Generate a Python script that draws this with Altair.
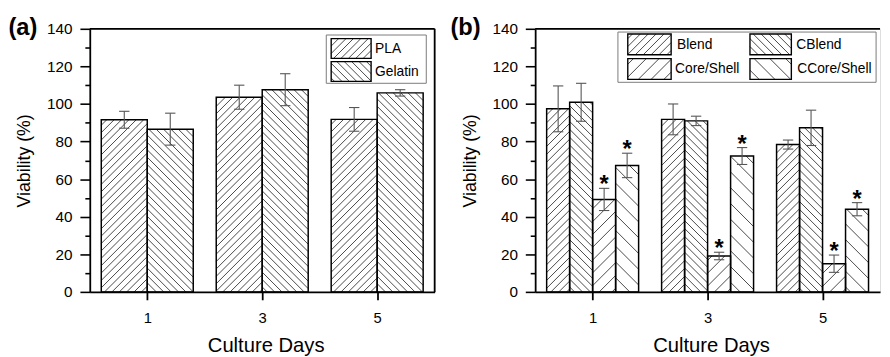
import math
import altair as alt
import pandas as pd

# ---------------- data ----------------
DAYS = [1, 3, 5]

A_SERIES = ["PLA", "Gelatin"]
A_MEAN = [[91.6, 103.6, 91.8], [86.6, 107.6, 105.9]]
A_ERR = [[4.5, 6.4, 6.3], [8.5, 8.5, 1.7]]
A_SIG = [[False, False, False], [False, False, False]]

B_SERIES = ["Blend", "CBlend", "Core/Shell", "CCore/Shell"]
B_MEAN = [[97.4, 91.8, 78.4], [100.9, 91.0, 87.3], [49.2, 19.1, 15.0], [67.3, 72.3, 44.0]]
B_ERR = [[12.2, 8.2, 2.4], [10.1, 2.5, 9.4], [5.9, 2.0, 4.6], [6.5, 4.5, 3.5]]
B_SIG = [[False, False, False], [False, False, False], [True, True, True], [True, True, True]]

Y_TICKS = list(range(0, 141, 10))
X_TICKS = [1, 3, 5]

# ---------------- styling / layout ----------------
FONT = "Liberation Sans"
W, H = 350, 267
XDOM = [0, 6]
YDOM = [0, 140]
KX = W / (XDOM[1] - XDOM[0])
KY = H / (YDOM[1] - YDOM[0])
CAP = 5.25  # half cap width, px

A_HATCH = [("/", 7.5), ("\\", 7.5)]
B_HATCH = [("/", 8.0), ("\\", 8.0), ("/", 13.0), ("\\", 16.0)]

A_LEGEND = dict(
    box=(240, 6.3, 341.5, 55.3),
    items=[(245, 10, 285.5, 30, 289.5), (245, 33.3, 285.5, 53.3, 289.5)],
)
B_LEGEND = dict(
    box=(84, 3.3, 346, 54.3),
    items=[(94, 5.3, 138, 26.3, 144), (218, 5.3, 260, 26.3, 265),
           (94, 30.3, 138, 51.3, 142), (218, 30.3, 260, 51.3, 266)],
)

xscale = alt.Scale(domain=XDOM, nice=False, zero=False)
yscale = alt.Scale(domain=YDOM, nice=False, zero=False)

xaxis = alt.Axis(values=X_TICKS, format="d", title="Culture Days", grid=False,
                 tickSize=8, tickWidth=1.8, tickColor="black",
                 domainColor="black", domainWidth=1.8,
                 labelFontSize=15, labelPadding=11, labelColor="black",
                 titleFontSize=20.5, titlePadding=11, titleColor="black",
                 titleX=W / 2 + 3.5,
                 titleFontWeight="normal", zindex=1)
yaxis = alt.Axis(values=Y_TICKS, title="Viability (%)", grid=False,
                 labelExpr="datum.value % 20 === 0 ? datum.label : ''",
                 labelOverlap=False, tickCount=15,
                 tickSize={"condition": {"test": "datum.value % 20 === 0", "value": 10}, "value": 5},
                 tickWidth=1.6, tickColor="black",
                 domainColor="black", domainWidth=1.8,
                 labelFontSize=15.5, labelPadding=8, labelColor="black",
                 titleFontSize=18, titlePadding=13, titleColor="black",
                 titleFontWeight="normal", zindex=1)


def X(f):
    return alt.X(f, type="quantitative", scale=xscale, axis=xaxis)


def Y(f):
    return alt.Y(f, type="quantitative", scale=yscale, axis=yaxis)


def PX(f):
    return alt.X(f, type="quantitative", scale=None, axis=None)


def PY(f):
    return alt.Y(f, type="quantitative", scale=None, axis=None)


def hatch_lines(X0, X1, Y0, Y1, direction, s):
    segs = []
    if direction == "/":
        kmin = math.ceil((Y0 - X1) / s)
        kmax = math.floor((Y1 - X0) / s)
        for k in range(kmin, kmax + 1):
            c = k * s
            xa = max(X0, Y0 - c)
            xb = min(X1, Y1 - c)
            if xb - xa > 0.3:
                segs.append((xa, xa + c, xb, xb + c))
    else:
        kmin = math.ceil((X0 + Y0) / s)
        kmax = math.floor((X1 + Y1) / s)
        for k in range(kmin, kmax + 1):
            c = k * s
            xa = max(X0, c - Y1)
            xb = min(X1, c - Y0)
            if xb - xa > 0.3:
                segs.append((xa, c - xa, xb, c - xb))
    return segs


def make_panel(tag, series, means, errs, sig, bar_w, hatch, legend, right_border, tag_x):
    rows, hrows, srows = [], [], []
    n = len(series)
    for i, name in enumerate(series):
        direction, s = hatch[i]
        for j, d in enumerate(DAYS):
            x0 = d - n * bar_w / 2 + i * bar_w
            x1 = x0 + bar_w
            m, e = means[i][j], errs[i][j]
            xc = (x0 + x1) / 2
            rows.append(dict(series=name, day=d, x0=x0, x1=x1, xc=xc, mean=m, zero=0,
                             lo=m - e, hi=m + e, cl=xc - CAP / KX, cr=xc + CAP / KX))
            for (xa, ya, xb, yb) in hatch_lines(x0 * KX, x1 * KX, 0, m * KY, direction, s):
                hrows.append(dict(series=name, hx=xa / KX, hy=ya / KY, hx2=xb / KX, hy2=yb / KY))
            if sig[i][j]:
                srows.append(dict(series=name, xc=xc, hi=m + e, star="*"))
    bars = pd.DataFrame(rows)
    hat = pd.DataFrame(hrows)

    # legend (pixel space)
    lrows, lhrows = [], []
    for i, name in enumerate(series):
        sx0, sy0, sx1, sy1, tx = legend["items"][i]
        lrows.append(dict(series=name, sx0=sx0, sy0=sy0, sx1=sx1, sy1=sy1, tx=tx, ty=(sy0 + sy1) / 2 + 0.5))
        direction, s = hatch[i]
        for (xa, ya, xb, yb) in hatch_lines(sx0, sx1, -sy1, -sy0, direction, s):
            lhrows.append(dict(series=name, lx=xa, ly=-ya, lx2=xb, ly2=-yb))
    leg = pd.DataFrame(lrows)
    leghat = pd.DataFrame(lhrows)
    bx0, by0, bx1, by1 = legend["box"]
    box = pd.DataFrame([dict(bx0=bx0, by0=by0, bx1=bx1, by1=by1)])
    frame = pd.DataFrame([dict(top=YDOM[1], right=XDOM[1])])

    layers = []
    layers.append(alt.Chart(bars).mark_rect(fill="white", stroke=None).encode(
        x=X("x0"), x2="x1", y=Y("zero"), y2="mean"))
    layers.append(alt.Chart(hat).mark_rule(color="#1a1a1a", strokeWidth=0.8).encode(
        x=X("hx"), y=Y("hy"), x2="hx2", y2="hy2"))
    layers.append(alt.Chart(bars).mark_rect(fill=None, stroke="black", strokeWidth=1.5).encode(
        x=X("x0"), x2="x1", y=Y("zero"), y2="mean"))
    layers.append(alt.Chart(bars).mark_rule(color="#555555", strokeWidth=1.1).encode(
        x=X("xc"), y=Y("lo"), y2="hi"))
    layers.append(alt.Chart(bars).mark_rule(color="#555555", strokeWidth=1.1).encode(
        x=X("cl"), x2="cr", y=Y("hi")))
    layers.append(alt.Chart(bars).mark_rule(color="#555555", strokeWidth=1.1).encode(
        x=X("cl"), x2="cr", y=Y("lo")))
    if srows:
        stars = pd.DataFrame(srows)
        layers.append(alt.Chart(stars).mark_text(fontSize=24, fontWeight="bold", color="black",
                                                 baseline="alphabetic", dy=4).encode(
            x=X("xc"), y=Y("hi"), text="star:N"))
    # frame
    layers.append(alt.Chart(frame).mark_rule(color="black", strokeWidth=1.8).encode(
        y=Y("top")))
    if right_border:
        layers.append(alt.Chart(frame).mark_rule(color="black", strokeWidth=1.8).encode(
            x=X("right")))
    # legend
    layers.append(alt.Chart(box).mark_rect(fill="white", stroke="#7a7a7a", strokeWidth=1).encode(
        x=PX("bx0"), x2="bx1", y=PY("by0"), y2="by1"))
    layers.append(alt.Chart(leg).mark_rect(fill="white", stroke=None).encode(
        x=PX("sx0"), x2="sx1", y=PY("sy0"), y2="sy1"))
    layers.append(alt.Chart(leghat).mark_rule(color="#1a1a1a", strokeWidth=0.8).encode(
        x=PX("lx"), y=PY("ly"), x2="lx2", y2="ly2"))
    layers.append(alt.Chart(leg).mark_rect(fill=None, stroke="black", strokeWidth=1.4).encode(
        x=PX("sx0"), x2="sx1", y=PY("sy0"), y2="sy1"))
    layers.append(alt.Chart(leg).mark_text(align="left", baseline="middle", fontSize=14,
                                           color="black").encode(
        x=PX("tx"), y=PY("ty"), text="series:N"))
    # panel tag
    layers.append(alt.Chart(pd.DataFrame([dict(t=tag)])).mark_text(
        align="left", baseline="alphabetic", fontSize=24, fontWeight="bold", color="black").encode(
        x=alt.value(tag_x), y=alt.value(6), text="t:N"))

    return alt.layer(*layers).properties(width=W, height=H)


pa = make_panel("(a)", A_SERIES, A_MEAN, A_ERR, A_SIG, 0.8, A_HATCH, A_LEGEND, True, -82.5)
pb = make_panel("(b)", B_SERIES, B_MEAN, B_ERR, B_SIG, 0.4, B_HATCH, B_LEGEND, False, -86)

chart = alt.hconcat(pa, pb, spacing=13).properties(
    padding={"left": 0, "top": 4.5, "right": 0, "bottom": 0}
).configure_view(stroke=None).configure(font=FONT)

chart.save("out.html", embed_options={"renderer": "svg", "actions": False})
